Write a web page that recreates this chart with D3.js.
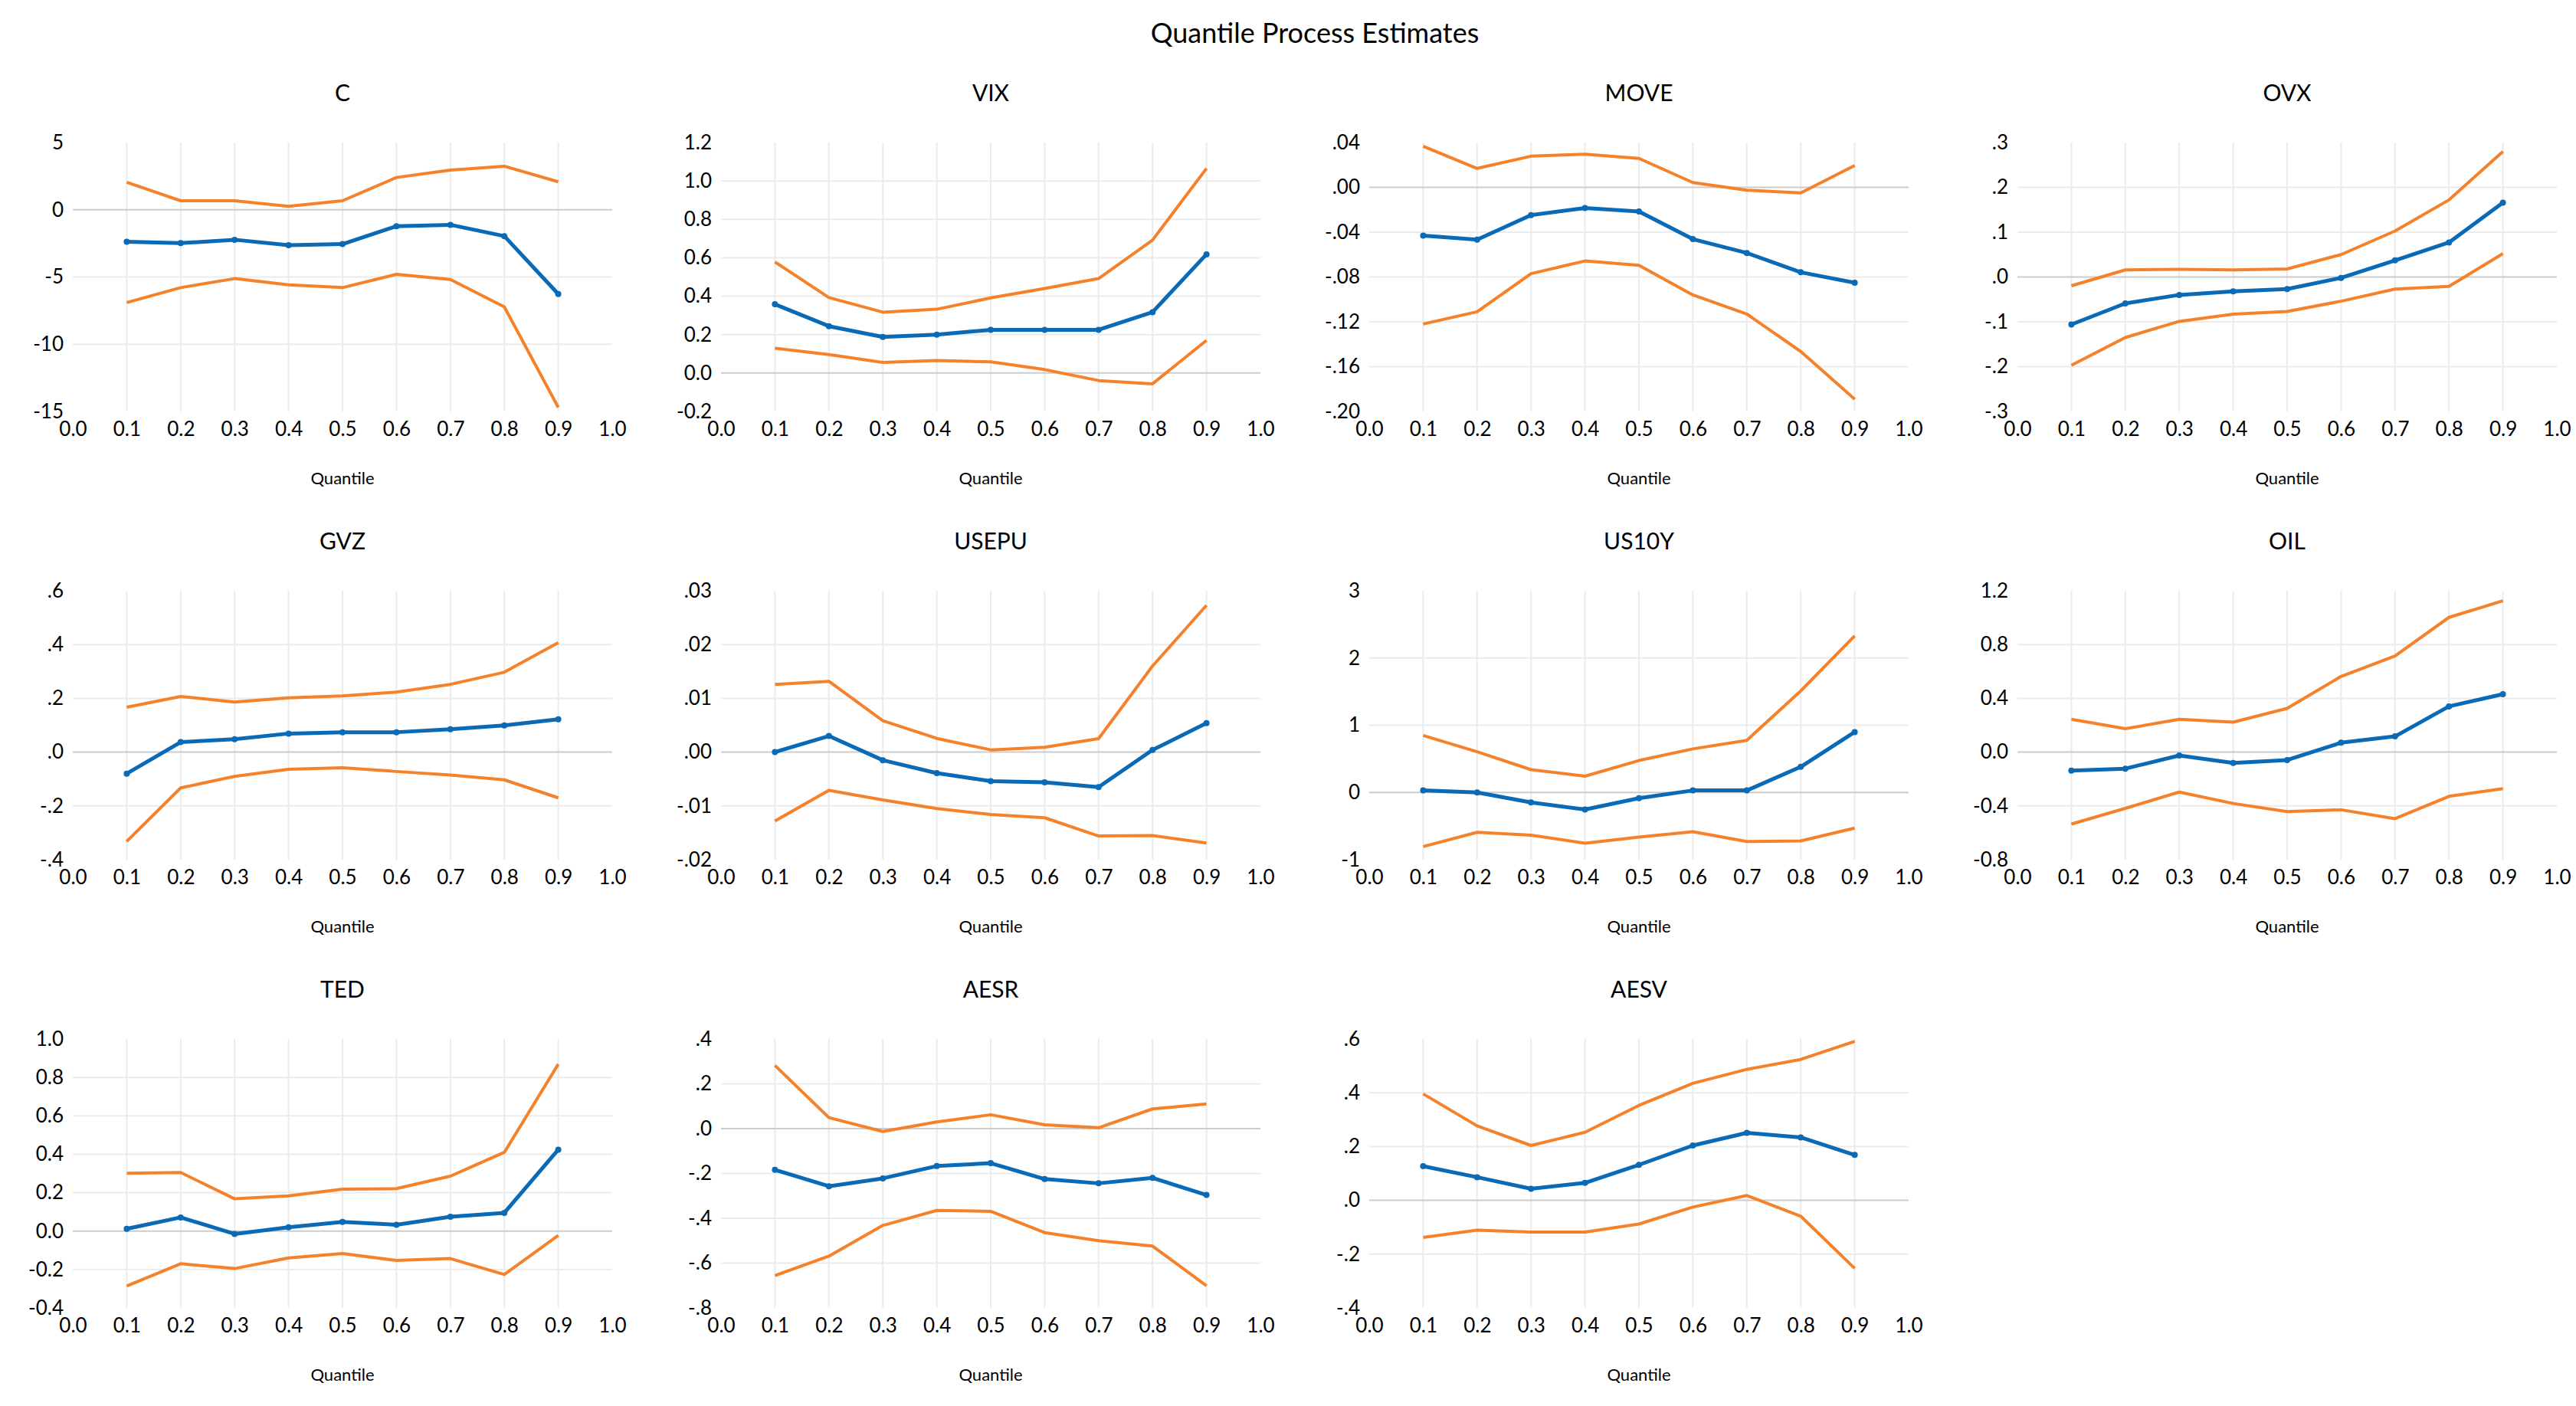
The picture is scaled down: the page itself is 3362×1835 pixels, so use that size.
<!DOCTYPE html>
<meta charset="utf-8">
<style>
  body { margin: 0; background: #fff; }
  text { font-family: Lato, "Noto Sans", sans-serif; fill: #000; }
</style>
<body>
<script src="https://d3js.org/d3.v7.min.js"></script>
<script>

var panelNames = ["C", "VIX", "MOVE", "OVX", "GVZ", "USEPU", "US10Y", "OIL", "TED", "AESR", "AESV"];
var quantiles = [0.1, 0.2, 0.3, 0.4, 0.5, 0.6, 0.7, 0.8, 0.9];

// y tick labels per panel (top to bottom)
var yTickLabels = [
  ["5", "0", "-5", "-10", "-15"],
  ["1.2", "1.0", "0.8", "0.6", "0.4", "0.2", "0.0", "-0.2"],
  [".04", ".00", "-.04", "-.08", "-.12", "-.16", "-.20"],
  [".3", ".2", ".1", ".0", "-.1", "-.2", "-.3"],
  [".6", ".4", ".2", ".0", "-.2", "-.4"],
  [".03", ".02", ".01", ".00", "-.01", "-.02"],
  ["3", "2", "1", "0", "-1"],
  ["1.2", "0.8", "0.4", "0.0", "-0.4", "-0.8"],
  ["1.0", "0.8", "0.6", "0.4", "0.2", "0.0", "-0.2", "-0.4"],
  [".4", ".2", ".0", "-.2", "-.4", "-.6", "-.8"],
  [".6", ".4", ".2", ".0", "-.2", "-.4"]
];

var estimate = [
  [-2.38, -2.48, -2.23, -2.63, -2.55, -1.22, -1.12, -1.96, -6.27],
  [0.358, 0.244, 0.188, 0.200, 0.225, 0.225, 0.225, 0.317, 0.618],
  [-0.043, -0.0467, -0.0248, -0.0184, -0.0215, -0.0462, -0.0586, -0.0758, -0.0851],
  [-0.106, -0.059, -0.040, -0.032, -0.027, -0.002, 0.037, 0.077, 0.166],
  [-0.080, 0.037, 0.048, 0.069, 0.074, 0.074, 0.085, 0.099, 0.122],
  [0.0000, 0.0030, -0.0015, -0.0039, -0.0054, -0.0056, -0.0065, 0.0004, 0.0054],
  [0.03, 0.00, -0.148, -0.254, -0.085, 0.03, 0.03, 0.381, 0.898],
  [-0.138, -0.123, -0.025, -0.081, -0.059, 0.070, 0.117, 0.340, 0.431],
  [0.012, 0.071, -0.015, 0.020, 0.048, 0.033, 0.075, 0.095, 0.424],
  [-0.184, -0.257, -0.222, -0.167, -0.154, -0.225, -0.244, -0.220, -0.296],
  [0.127, 0.086, 0.043, 0.065, 0.132, 0.204, 0.251, 0.234, 0.169]
];

var upperBand = [
  [2.04, 0.67, 0.67, 0.25, 0.67, 2.40, 2.95, 3.24, 2.08],
  [0.578, 0.393, 0.317, 0.332, 0.391, 0.440, 0.492, 0.692, 1.065],
  [0.0366, 0.0169, 0.0278, 0.0296, 0.0258, 0.0043, -0.0025, -0.0050, 0.0195],
  [-0.0196, 0.0158, 0.017, 0.0158, 0.018, 0.050, 0.1025, 0.172, 0.280],
  [0.167, 0.207, 0.186, 0.202, 0.209, 0.223, 0.252, 0.297, 0.407],
  [0.01257, 0.01316, 0.00584, 0.00255, 0.00042, 0.0009, 0.0025, 0.0160, 0.0273],
  [0.847, 0.606, 0.339, 0.242, 0.475, 0.648, 0.775, 1.51, 2.33],
  [0.244, 0.174, 0.244, 0.223, 0.325, 0.563, 0.715, 1.002, 1.125],
  [0.301, 0.305, 0.168, 0.183, 0.218, 0.221, 0.286, 0.410, 0.869],
  [0.282, 0.049, -0.013, 0.030, 0.062, 0.017, 0.004, 0.088, 0.110],
  [0.396, 0.277, 0.204, 0.253, 0.353, 0.435, 0.487, 0.524, 0.591]
];

var lowerBand = [
  [-6.90, -5.79, -5.12, -5.58, -5.79, -4.80, -5.18, -7.22, -14.7],
  [0.129, 0.096, 0.055, 0.065, 0.058, 0.018, -0.039, -0.056, 0.170],
  [-0.122, -0.111, -0.077, -0.0657, -0.0695, -0.096, -0.113, -0.1465, -0.189],
  [-0.197, -0.135, -0.099, -0.083, -0.077, -0.054, -0.027, -0.021, 0.052],
  [-0.332, -0.133, -0.090, -0.064, -0.058, -0.072, -0.085, -0.103, -0.170],
  [-0.0128, -0.0071, -0.0089, -0.0105, -0.0116, -0.0122, -0.0156, -0.0155, -0.0169],
  [-0.805, -0.593, -0.636, -0.754, -0.665, -0.585, -0.729, -0.720, -0.530],
  [-0.535, -0.418, -0.297, -0.382, -0.442, -0.429, -0.495, -0.329, -0.272],
  [-0.286, -0.170, -0.195, -0.140, -0.117, -0.153, -0.143, -0.226, -0.023],
  [-0.656, -0.569, -0.432, -0.365, -0.369, -0.464, -0.500, -0.524, -0.701],
  [-0.138, -0.111, -0.118, -0.118, -0.088, -0.025, 0.018, -0.059, -0.253]
];

var xTicks = [0, 0.1, 0.2, 0.3, 0.4, 0.5, 0.6, 0.7, 0.8, 0.9, 1.0];

var width = 3362, height = 1835,
    colLeft = 95, colStep = 846, plotW = 704,
    rowTop = 186, rowStep = 585, plotH = 351,
    blue = "#0a6ab6", orange = "#f5822a";

var svg = d3.select("body").append("svg")
    .attr("width", width)
    .attr("height", height)
    .style("background", "#fff");

svg.append("text")
    .attr("x", colLeft + (3 * colStep + plotW) / 2)
    .attr("y", 56)
    .attr("text-anchor", "middle")
    .style("font-size", "36px")
    .text("Quantile Process Estimates");

panelNames.forEach(function(name, i) {
  var col = i % 4, row = Math.floor(i / 4);
  var g = svg.append("g")
      .attr("transform", "translate(" + (colLeft + col * colStep) + "," + (rowTop + row * rowStep) + ")");

  var ticks = yTickLabels[i].map(function(t) { return +t; });
  var x = d3.scaleLinear().domain([0, 1]).range([0, plotW]);
  var y = d3.scaleLinear().domain(d3.extent(ticks)).range([plotH, 0]);

  // grid
  g.selectAll(".vgrid").data(quantiles).enter().append("line")
      .attr("x1", function(d) { return x(d); })
      .attr("x2", function(d) { return x(d); })
      .attr("y1", 0).attr("y2", plotH)
      .style("stroke", "#ebebeb").style("stroke-width", 2);

  var inner = ticks.filter(function(t, j) { return j > 0 && j < ticks.length - 1; });
  g.selectAll(".hgrid").data(inner).enter().append("line")
      .attr("x1", 0).attr("x2", plotW)
      .attr("y1", function(d) { return y(d); })
      .attr("y2", function(d) { return y(d); })
      .style("stroke", function(d) { return d === 0 ? "#cccccc" : "#ebebeb"; })
      .style("stroke-width", 2);

  // axes
  var yAxis = g.append("g")
      .call(d3.axisLeft(y).tickValues(ticks).tickSize(0).tickPadding(12)
        .tickFormat(function(d, j) { return yTickLabels[i][j]; }));
  var xAxis = g.append("g")
      .attr("transform", "translate(0," + plotH + ")")
      .call(d3.axisBottom(x).tickValues(xTicks).tickSize(0).tickPadding(14)
        .tickFormat(d3.format(".1f")));
  [yAxis, xAxis].forEach(function(a) {
    a.select(".domain").remove();
    a.selectAll("text").style("font-size", "26px").style("font-family", "Lato, 'Noto Sans', sans-serif").attr("fill", "#000");
  });

  var line = d3.line()
      .x(function(d, j) { return x(quantiles[j]); })
      .y(function(d) { return y(d); });

  [upperBand[i], lowerBand[i]].forEach(function(band) {
    g.append("path")
        .datum(band)
        .attr("d", line)
        .style("fill", "none")
        .style("stroke", orange)
        .style("stroke-width", 4)
        .style("stroke-linejoin", "round");
  });

  g.append("path")
      .datum(estimate[i])
      .attr("d", line)
      .style("fill", "none")
      .style("stroke", blue)
      .style("stroke-width", 5)
      .style("stroke-linejoin", "round");

  g.selectAll(".pt").data(estimate[i]).enter().append("circle")
      .attr("cx", function(d, j) { return x(quantiles[j]); })
      .attr("cy", function(d) { return y(d); })
      .attr("r", 4)
      .style("fill", blue);

  g.append("text")
      .attr("x", plotW / 2)
      .attr("y", -54)
      .attr("text-anchor", "middle")
      .style("font-size", "30px")
      .text(name);

  g.append("text")
      .attr("x", plotW / 2)
      .attr("y", plotH + 95)
      .attr("text-anchor", "middle")
      .style("font-size", "22px")
      .text("Quantile");
});

</script>
</body>
